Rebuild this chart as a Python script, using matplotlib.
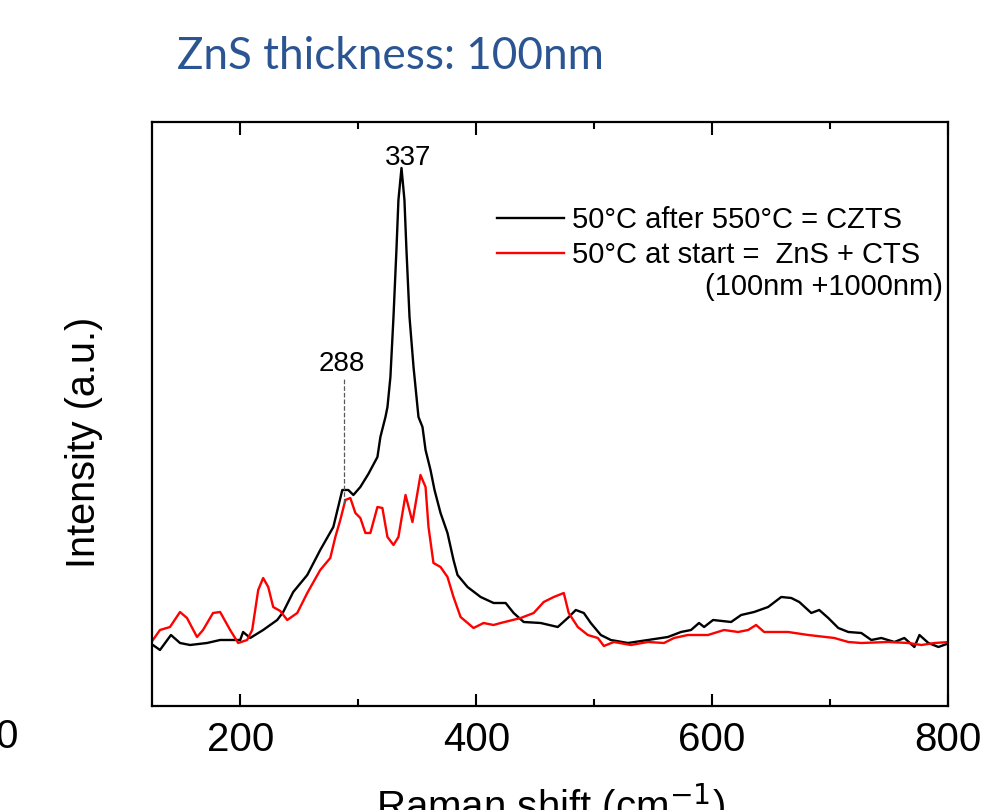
import matplotlib.pyplot as plt
from matplotlib.ticker import MultipleLocator

# Raman spectra (intensity in arbitrary units)
czts_shift = [125.8, 131.8, 141.1, 148.8, 157.3, 171.7, 182.8, 199.8, 202.3, 208.3,
              219.3, 231.2, 236.3, 244.8, 256.7, 267.7, 278.8, 286.4, 291.5, 295.8,
              301.7, 308.5, 316.2, 318.7, 323.0, 324.7, 327.2, 329.8, 332.3, 334.0,
              336.6, 339.1, 340.8, 343.4, 346.8, 351.0, 354.4, 357.0, 361.2, 364.6,
              369.7, 375.6, 380.7, 384.1, 392.6, 403.7, 414.7, 424.9, 431.7, 440.2,
              454.6, 469.1, 477.6, 484.4, 491.2, 497.1, 505.6, 514.1, 528.6, 545.6,
              562.5, 573.6, 582.1, 588.9, 593.2, 600.8, 616.1, 624.6, 635.6, 647.5,
              658.6, 667.1, 673.9, 684.1, 690.8, 698.5, 707.0, 715.5, 726.5, 735.0,
              743.5, 754.6, 763.0, 771.5, 775.8, 783.4, 791.9, 801.3]
czts_int = [61, 56, 71, 63, 61, 63, 66, 66, 74, 68,
            76, 86, 94, 114, 131, 156, 179, 216, 216, 211,
            219, 232, 249, 269, 289, 299, 329, 389, 456, 506,
            538, 506, 456, 389, 339, 289, 279, 256, 236, 216,
            193, 173, 146, 131, 119, 109, 103, 103, 93, 84,
            83, 79, 88, 96, 93, 83, 71, 66, 63, 66,
            69, 74, 76, 83, 79, 86, 84, 91, 94, 99,
            109, 108, 104, 93, 96, 88, 78, 74, 73, 66,
            68, 64, 68, 59, 71, 63, 59, 63]

start_shift = [125.8, 131.8, 140.3, 148.8, 154.7, 163.2, 168.3, 176.8, 182.8, 191.3,
               198.1, 205.7, 210.0, 215.1, 219.3, 223.6, 227.8, 233.8, 239.7, 248.2,
               256.7, 267.7, 276.2, 280.5, 284.7, 289.0, 293.2, 297.5, 301.7, 306.0,
               310.2, 316.2, 320.4, 324.7, 329.8, 334.0, 340.0, 345.9, 352.7, 357.0,
               359.5, 363.7, 369.7, 375.6, 380.7, 386.7, 397.7, 406.2, 414.7, 420.7,
               437.7, 448.7, 457.2, 465.7, 474.2, 478.4, 486.1, 494.6, 503.1, 508.2,
               516.7, 531.1, 545.6, 559.2, 567.7, 579.5, 596.5, 610.1, 622.0, 630.5,
               637.3, 644.1, 664.5, 681.5, 703.6, 715.5, 726.5, 749.5, 766.5, 777.5,
               788.6, 801.3]
start_int = [66, 76, 79, 94, 88, 69, 76, 93, 94, 76,
             63, 66, 76, 116, 128, 119, 99, 95, 86, 93,
             113, 136, 148, 169, 186, 206, 208, 193, 188, 173,
             173, 199, 198, 169, 161, 169, 211, 184, 231, 219,
             179, 143, 139, 129, 109, 89, 78, 83, 81, 83,
             88, 93, 104, 109, 113, 93, 79, 71, 68, 60,
             64, 61, 64, 63, 68, 71, 71, 76, 74, 76,
             81, 74, 74, 71, 68, 64, 63, 64, 63, 61,
             63, 64]

peak_main = 337
peak_side = 288
side_mark = [203, 328]

plt.rcParams['font.family'] = ['Liberation Sans', 'DejaVu Sans']

fig = plt.figure(figsize=(9.88, 8.1), dpi=100)
ax = fig.add_axes([0.1538, 0.1284, 0.8057, 0.7210])

ax.plot(czts_shift, czts_int, color='black', lw=1.7,
        label='50°C after 550°C = CZTS')
ax.plot(start_shift, start_int, color='#ff0000', lw=1.7,
        label='50°C at start =  ZnS + CTS')

ax.plot([peak_side, peak_side], side_mark, ls='--', lw=0.9, color='0.35')
ax.text(peak_main + 5, 548, str(peak_main), ha='center', va='center', fontsize=20)
ax.text(peak_side - 2, 342, str(peak_side), ha='center', va='center', fontsize=20)

ax.set_xlim(125, 800)
ax.set_ylim(0, 584)
ax.set_yticks([])
ax.xaxis.set_major_locator(MultipleLocator(200))
ax.xaxis.set_minor_locator(MultipleLocator(100))
ax.tick_params(axis='x', which='both', direction='in', top=True, labelsize=29,
               pad=11, width=1.5)
ax.tick_params(axis='x', which='major', length=9)
ax.tick_params(axis='x', which='minor', length=5)
for s in ax.spines.values():
    s.set_linewidth(1.6)

ax.set_xlabel('Raman shift (cm$^{-1}$)', fontsize=29, labelpad=16)
ax.set_ylabel('Intensity (a.u.)', fontsize=28.5)
ax.yaxis.set_label_coords(-0.062, 0.452)

leg = ax.legend(loc='upper left', bbox_to_anchor=(0.433, 0.856), frameon=False,
                fontsize=21, handlelength=2.3, handletextpad=0.3,
                labelspacing=0.25, borderaxespad=0, borderpad=0)
ax.text(0.993, 0.718, '(100nm +1000nm)', transform=ax.transAxes,
        ha='right', va='center', fontsize=21)

fig.text(0.395, 0.93, 'ZnS thickness: 100nm', ha='center', va='center',
         fontsize=31.7, color='#2b5592', family=['Lato', 'DejaVu Sans'])
fig.text(18 / 988, 1 - 737 / 810, '0', ha='right', va='center', fontsize=29)

fig.savefig('out.png', dpi=100)
